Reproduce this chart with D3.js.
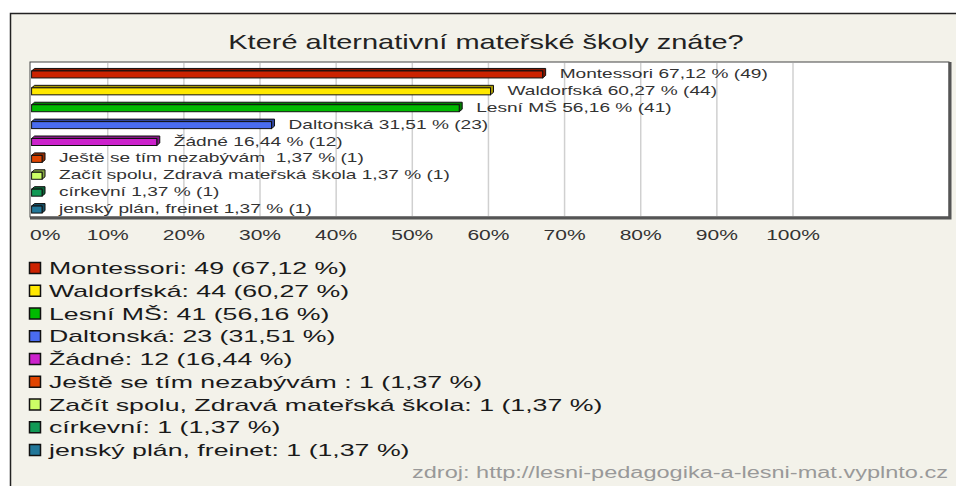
<!DOCTYPE html>
<html>
  <head>
    <meta charset="utf-8">
    <script src="https://d3js.org/d3.v7.min.js"></script>
    <title>Které alternativní mateřské školy znáte?</title>
    <style>
      body { margin: 0; background: #fff; }
      text { font-family: "Liberation Sans", Arial, sans-serif; white-space: pre; }
    </style>
  </head>
  <body>
    <svg width="956" height="486" id="chart"></svg>
    <script>
      var categories = ["Montessori", "Waldorfská", "Lesní MŠ", "Daltonská", "Žádné",
        "Ještě se tím nezabývám ", "Začít spolu, Zdravá mateřská škola", "církevní", "jenský plán, freinet"];
      var counts = [49, 44, 41, 23, 12, 1, 1, 1, 1];
      var percents = [67.12, 60.27, 56.16, 31.51, 16.44, 1.37, 1.37, 1.37, 1.37];
      var colors = ["#cc2200", "#ffe800", "#00bb00", "#4a6cf0", "#cc22cc", "#e04400", "#ccff66", "#119955", "#227799"];
      var ticks = [0, 10, 20, 30, 40, 50, 60, 70, 80, 90, 100];
      var title = "Které alternativní mateřské školy znáte?";
      var source = "zdroj: http://lesni-pedagogika-a-lesni-mat.vyplnto.cz";

      var svg = d3.select("#chart");
      var fmt = function (v) { return v.toFixed(2).replace(".", ","); };

      // the original is stretched horizontally, so text gets widened too
      function stretch(sel, k) {
        sel.each(function () {
          var w = this.getComputedTextLength();
          d3.select(this).attr("textLength", w * k).attr("lengthAdjust", "spacingAndGlyphs");
        });
      }

      // panel
      svg.append("rect").attr("x", 10).attr("y", 13).attr("width", 950).attr("height", 480)
        .attr("fill", "#f3f2ea");
      svg.append("path").attr("d", "M10.5,486V13.5H956")
        .attr("fill", "none").attr("stroke", "#222").attr("stroke-width", 1.5);

      var t = svg.append("text").attr("x", 486).attr("y", 49).attr("text-anchor", "middle")
        .attr("font-size", 21).attr("fill", "#222").text(title);
      stretch(t, 1.38);

      var plot = { left: 30, top: 62, right: 949, bottom: 217 };
      var x = d3.scaleLinear().domain([0, 100]).range([31.6, 793]);
      var y = d3.scaleBand().domain(categories).range([64.5, 216.5]);

      // plot background with shadowed right/bottom edges
      svg.append("rect").attr("x", plot.left).attr("y", plot.top)
        .attr("width", plot.right - plot.left).attr("height", plot.bottom - plot.top)
        .attr("fill", "#fff").attr("stroke", "#444").attr("stroke-width", 1);
      svg.append("path")
        .attr("d", "M" + (plot.right + 1) + "," + plot.top + "V" + (plot.bottom + 1) + "H" + plot.left)
        .attr("fill", "none").attr("stroke", "#555").attr("stroke-width", 3);

      svg.append("g").selectAll("line").data(ticks.slice(1)).enter().append("line")
        .attr("x1", function (d) { return x(d); }).attr("x2", function (d) { return x(d); })
        .attr("y1", plot.top + 1).attr("y2", plot.bottom - 1)
        .attr("stroke", "#d0d0d0").attr("stroke-width", 1.5);

      var tl = svg.append("g").selectAll("text").data(ticks).enter().append("text")
        .attr("x", function (d) { return d === 0 ? 30 : x(d); })
        .attr("y", 240)
        .attr("text-anchor", function (d) { return d === 0 ? "start" : "middle"; })
        .attr("font-size", 14).attr("fill", "#333")
        .text(function (d) { return d + "%"; });
      stretch(tl, 1.5);

      // 3d bars
      var dx = 3, dy = 2.5;
      var bars = svg.append("g").selectAll("g").data(categories).enter().append("g");
      bars.append("path")
        .attr("d", function (d, i) {
          var c = y(d) + y.bandwidth() / 2, x0 = x(0), x1 = x(percents[i]);
          return "M" + x0 + "," + (c - 2) + "L" + (x0 + dx) + "," + (c - 2 - dy) + "H" + (x1 + dx) +
            "V" + (c + 5 - dy) + "L" + x1 + "," + (c + 5) + "V" + (c - 2) + "Z";
        })
        .attr("fill", function (d, i) { return d3.color(colors[i]).darker(1.2); })
        .attr("stroke", "#111").attr("stroke-width", 1);
      bars.append("rect")
        .attr("x", x(0))
        .attr("y", function (d) { return y(d) + y.bandwidth() / 2 - 2; })
        .attr("width", function (d, i) { return x(percents[i]) - x(0); })
        .attr("height", 7)
        .attr("fill", function (d, i) { return colors[i]; })
        .attr("stroke", "#111").attr("stroke-width", 1);

      var bl = bars.append("text")
        .attr("x", function (d, i) { return x(percents[i]) + 17; })
        .attr("y", function (d) { return y(d) + y.bandwidth() / 2 + 5; })
        .attr("font-size", 13).attr("fill", "#333")
        .text(function (d, i) { return d + " " + fmt(percents[i]) + " % (" + counts[i] + ")"; });
      stretch(bl, 1.47);

      // legend
      var leg = svg.append("g").selectAll("g").data(categories).enter().append("g")
        .attr("transform", function (d, i) { return "translate(29," + (268 + i * 22.75) + ")"; });
      leg.append("rect").attr("x", 0.5).attr("y", -5.5).attr("width", 11).attr("height", 11)
        .attr("fill", function (d, i) { return colors[i]; })
        .attr("stroke", "#111").attr("stroke-width", 1.5);
      var lt = leg.append("text").attr("x", 20).attr("y", 6)
        .attr("font-size", 17).attr("fill", "#1a1a1a")
        .text(function (d, i) { return d + ": " + counts[i] + " (" + fmt(percents[i]) + " %)"; });
      stretch(lt, 1.57);

      var s = svg.append("text").attr("x", 948).attr("y", 478).attr("text-anchor", "end")
        .attr("font-size", 16).attr("fill", "#999").text(source);
      stretch(s, 1.47);
    </script>
  </body>
</html>
